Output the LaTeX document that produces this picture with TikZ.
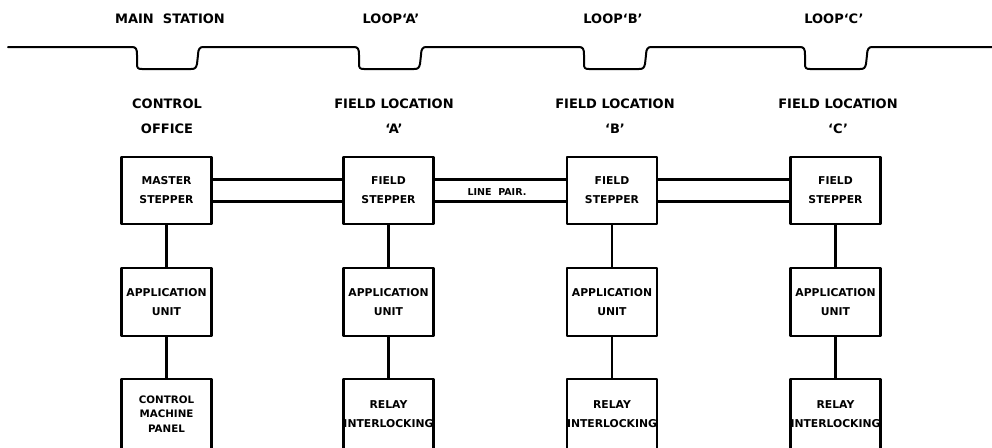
\documentclass[tikz,border=0pt]{standalone}
\usepackage{fontspec}
\setmainfont{DejaVu Sans}
\begin{document}
\begin{tikzpicture}[x=1pt,y=-1pt,
  line width=2.2pt, line join=round,
  unitbox/.style={draw, minimum width=90pt, align=center, inner sep=0pt,
    font=\bfseries\fontsize{10.8}{19}\selectfont},
  stepbox/.style={unitbox, minimum height=67pt},
  appbox/.style={unitbox, minimum height=68pt},
  endbox/.style={unitbox, minimum height=70pt},
  heading/.style={font=\bfseries\fontsize{13}{25}\selectfont, align=center, inner sep=0pt},
  wire/.style={line width=2.2pt},
  loopline/.style={line width=2pt, line join=round, line cap=round}
]
\clip (0,0) rectangle (992,447);
\fill[white] (0,0) rectangle (992,447);

% running line with the four loops
\draw[loopline] (8,47)
  \foreach \a/\b in {132/203, 354/426, 579/651, 800/872} {
    -- (\a,47)
    .. controls (\a+4,47) and (\a+5,49) .. (\a+5,55)
    -- (\a+5,64)
    .. controls (\a+5,68) and (\a+6,69) .. (\a+10,69)
    -- (\b-12,69)
    .. controls (\b-8,69) and (\b-7,68) .. (\b-6,64)
    -- (\b-5,55)
    .. controls (\b-5,49) and (\b-3,47) .. (\b,47)
  }
  -- (995,47);

% headings
\node[heading] (hmain) at (170,19) {MAIN\ \ STATION};
\node[heading] (hloopa) at (391,19) {LOOP‘A’};
\node[heading] (hloopb) at (613,19) {LOOP‘B’};
\node[heading] (hloopc) at (834,19) {LOOP‘C’};

\node[heading] (lmain) at (167,116) {CONTROL\\OFFICE};
\node[heading] (la) at (394,116) {FIELD LOCATION\\‘A’};
\node[heading] (lb) at (615,116) {FIELD LOCATION\\‘B’};
\node[heading] (lc) at (838,116) {FIELD LOCATION\\‘C’};

% steppers
\node[stepbox] (ms) at (166.5,190.5) {MASTER\\STEPPER};
\node[stepbox] (fa) at (388.5,190.5) {FIELD\\STEPPER};
\node[stepbox] (fb) at (612,190.5) {FIELD\\STEPPER};
\node[stepbox] (fc) at (835.5,190.5) {FIELD\\STEPPER};

% application units
\node[appbox] (am) at (166.5,302) {APPLICATION\\UNIT};
\node[appbox] (aa) at (388.5,302) {APPLICATION\\UNIT};
\node[appbox] (ab) at (612,302) {APPLICATION\\UNIT};
\node[appbox] (ac) at (835.5,302) {APPLICATION\\UNIT};

% bottom units
\node[endbox, font=\bfseries\fontsize{10.3}{14.5}\selectfont] (em) at (166.5,414) {CONTROL\\MACHINE\\PANEL};
\node[endbox] (ea) at (388.5,414) {RELAY\\INTERLOCKING};
\node[endbox] (eb) at (612,414) {RELAY\\INTERLOCKING};
\node[endbox] (ec) at (835.5,414) {RELAY\\INTERLOCKING};

% line pairs between steppers
\foreach \l/\r in {ms/fa, fa/fb, fb/fc} {
  \draw[wire] ([yshift=11pt]\l.east) -- ([yshift=11pt]\r.west);
  \draw[wire] ([yshift=-11pt]\l.east) -- ([yshift=-11pt]\r.west);
}
\node[font=\bfseries\fontsize{9.5}{10}\selectfont, inner sep=0pt] (lp) at (497,192) {LINE\ \ PAIR.};

% vertical connections
\foreach \s/\a/\e in {ms/am/em, fa/aa/ea, fb/ab/eb, fc/ac/ec} {
  \draw[wire] (\s.south) -- (\a.north);
  \draw[wire] (\a.south) -- (\e.north);
}
\end{tikzpicture}
\end{document}
